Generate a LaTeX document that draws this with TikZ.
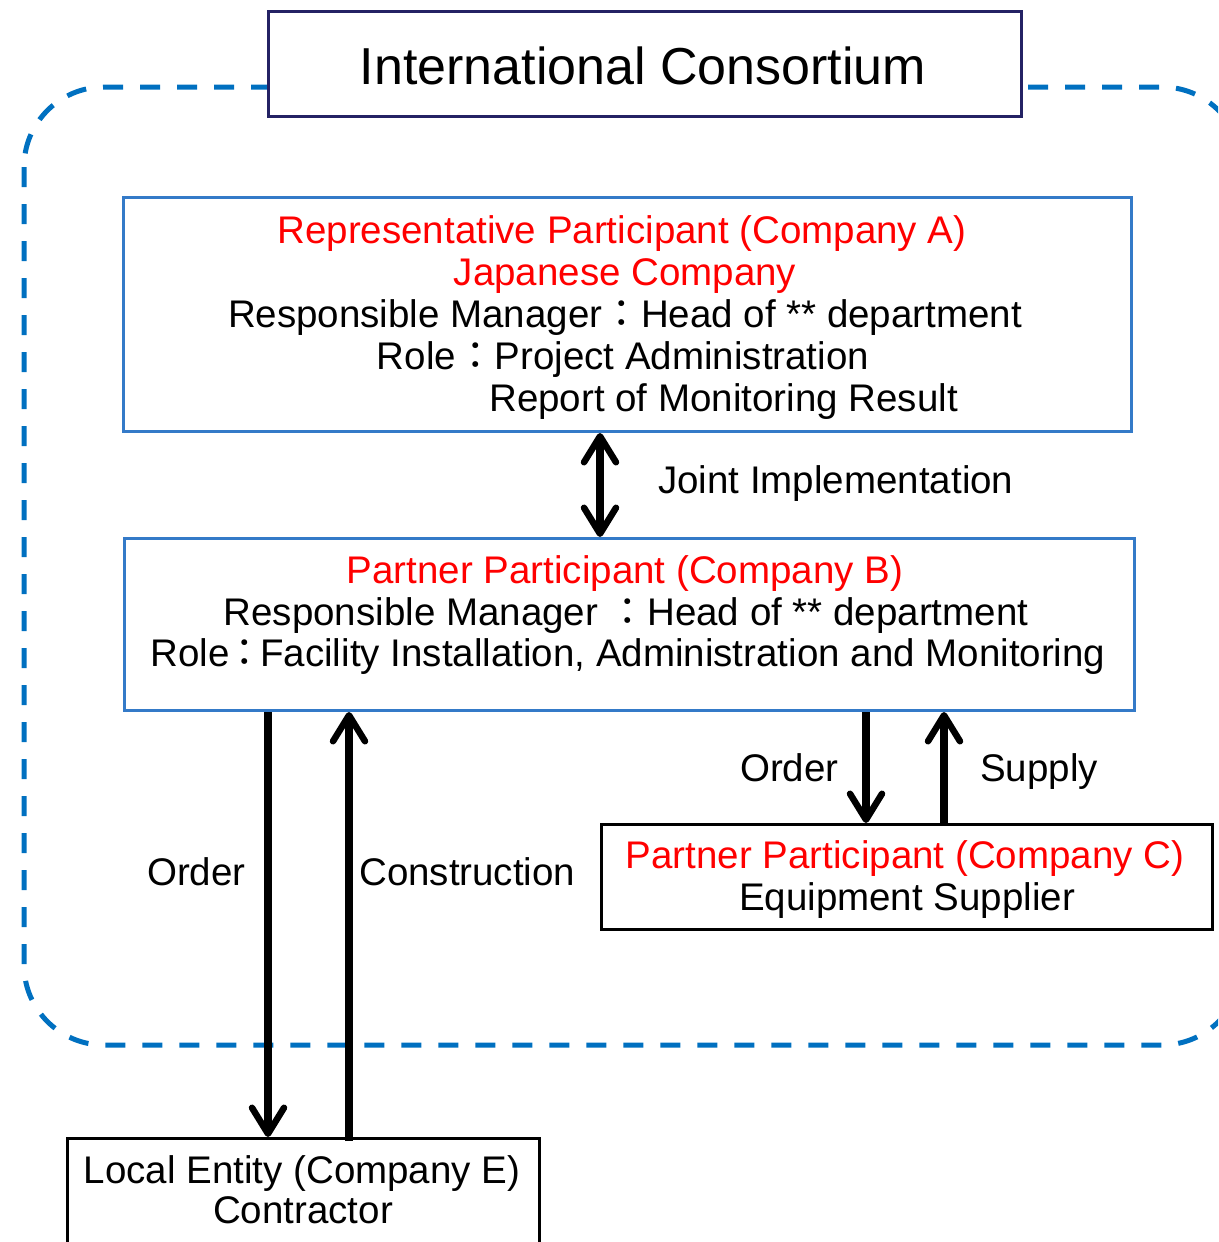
\documentclass[tikz,border=0pt]{standalone}
\usepackage{fontspec}
\setmainfont{Liberation Sans}
\newfontfamily\cjk{Noto Sans CJK JP}
\usetikzlibrary{arrows.meta}
\definecolor{frameblue}{RGB}{0,112,192}
\definecolor{boxblue}{RGB}{52,122,200}
\definecolor{titlenavy}{RGB}{36,34,100}
\definecolor{redtext}{RGB}{255,0,0}
\newcommand{\fcolon}{{\cjk ：}}
\tikzset{
  txt/.style={font=\fontsize{38.5}{42}\selectfont, inner sep=0pt, anchor=base},
  rtxt/.style={txt, text=redtext},
  ltxt/.style={txt, anchor=base west},
  bluebox/.style={draw=boxblue, line width=3pt, inner sep=0pt, anchor=north west},
  blackbox/.style={draw=black, line width=3pt, inner sep=0pt, anchor=north west, fill=white},
  flow/.style={line width=7.5pt, -{Straight Barb[length=26pt,width=32pt,line width=6.5pt,round]}},
  flowboth/.style={line width=7.5pt, {Straight Barb[length=26pt,width=32pt,line width=6.5pt,round]}-{Straight Barb[length=26pt,width=32pt,line width=6.5pt,round]}}
}
\begin{document}
\begin{tikzpicture}[x=1pt,y=-1pt]
\useasboundingbox (0,0) rectangle (1218,1242);
\begin{scope}
  \clip (0,0) rectangle (1218,1242);
  % consortium boundary
  \draw[frameblue, line width=5pt, dash pattern=on 20pt off 17pt, rounded corners=80pt]
    (24,87) rectangle (1242,1045);
  % local entity box (bottom edge lies outside the page)
  \node[blackbox, minimum width=472pt, minimum height=130pt] (E) at (66,1137) {};
\end{scope}

% title
\node[draw=titlenavy, line width=3pt, fill=white, inner sep=0pt, anchor=north west,
      minimum width=753pt, minimum height=105pt] (T) at (267,10) {};
\node[txt, font=\fontsize{52}{60}\selectfont] (tt) at (643,84) {International Consortium};

% company A
\node[bluebox, minimum width=1008pt, minimum height=234pt] (A) at (122,196) {};
\node[rtxt] (a1) at (622,243) {Representative Participant (Company A)};
\node[rtxt] (a2) at (625,285) {Japanese Company};
\node[txt]  (a3) at (625,327) {Responsible Manager\fcolon Head of ** department};
\node[txt]  (a4) at (623,369) {Role\fcolon Project Administration};
\node[ltxt] (a5) at (489,411) {Report of Monitoring Result};

% company B
\node[bluebox, minimum width=1010pt, minimum height=172pt] (B) at (123,537) {};
\node[rtxt] (b1) at (625,583) {Partner Participant (Company B)};
\node[txt]  (b2) at (626,625) {Responsible Manager \fcolon Head of ** department};
\node[txt]  (b3) at (628,666) {Role\kern-4pt\fcolon\kern-4pt Facility Installation, Administration and Monitoring};

% company C
\node[blackbox, minimum width=611pt, minimum height=105pt] (C) at (600,823) {};
\node[rtxt] (c1) at (905,868) {Partner Participant (Company C)};
\node[txt]  (c2) at (907,910) {Equipment Supplier};

% company E text
\node[txt] (e1) at (302,1183) {Local Entity (Company E)};
\node[txt] (e2) at (303,1223) {Contractor};

% connector columns
\coordinate (jx) at (600,0);
\coordinate (o1) at (268,0);
\coordinate (k1) at (349,0);
\coordinate (o2) at (866,0);
\coordinate (s2) at (944,0);

\draw[flowboth] (A.south -| jx) -- (B.north -| jx);
\draw[flow] (B.south -| o1) -- (E.north -| o1);
\draw[flow] ([yshift=-4pt]E.north -| k1) -- (B.south -| k1);
\draw[flow] (B.south -| o2) -- (C.north -| o2);
\draw[flow] (C.north -| s2) -- (B.south -| s2);

% connector labels
\node[ltxt] (lj) at (658,493) {Joint Implementation};
\node[ltxt] (lo1) at (147,885) {Order};
\node[ltxt] (lc) at (359,885) {Construction};
\node[ltxt] (lo2) at (740,781) {Order};
\node[ltxt] (ls) at (980,781) {Supply};
\end{tikzpicture}
\end{document}
